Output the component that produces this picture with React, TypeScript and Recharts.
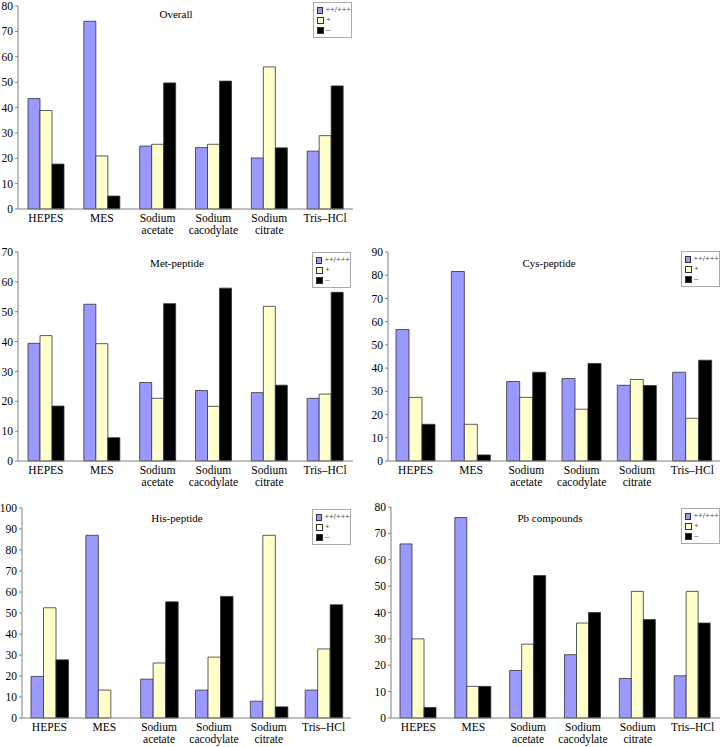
import React from 'react';
import { Bar, BarChart, XAxis, YAxis } from 'recharts';

// Crystallisation outcome (%) per buffer, split by screening set.
const categories = ['HEPES', 'MES', 'Sodium acetate', 'Sodium cacodylate', 'Sodium citrate', 'Tris–HCl'];
const seriesNames = ['++/+++', '+', '–'];

const overallStrong = [43.5, 74, 24.8, 24.2, 20.1, 22.8];
const overallWeak = [38.8, 20.9, 25.5, 25.5, 56, 28.9];
const overallNone = [17.7, 5.1, 49.7, 50.4, 24.1, 48.5];

const metStrong = [39.4, 52.5, 26.3, 23.6, 22.9, 21.0];
const metWeak = [42.0, 39.3, 21.0, 18.3, 51.8, 22.4];
const metNone = [18.4, 7.8, 52.7, 57.9, 25.4, 56.5];

const cysStrong = [56.6, 81.6, 34.2, 35.5, 32.6, 38.2];
const cysWeak = [27.4, 15.8, 27.4, 22.3, 35.1, 18.4];
const cysNone = [15.8, 2.6, 38.2, 42.0, 32.5, 43.4];

const hisStrong = [19.8, 87.0, 18.5, 13.3, 8.0, 13.3];
const hisWeak = [52.5, 13.3, 26.2, 29.0, 87.0, 32.9];
const hisNone = [27.7, 0, 55.3, 57.9, 5.3, 53.9];

const pbStrong = [66, 76, 18, 24, 15, 16];
const pbWeak = [30, 12, 28, 36, 48, 48];
const pbNone = [4, 12, 54, 40, 37.3, 36];

const ticks80 = [0, 10, 20, 30, 40, 50, 60, 70, 80];
const ticks70 = [0, 10, 20, 30, 40, 50, 60, 70];
const ticks90 = [0, 10, 20, 30, 40, 50, 60, 70, 80, 90];
const ticks100 = [0, 10, 20, 30, 40, 50, 60, 70, 80, 90, 100];

const colors = ['#9999ff', '#ffffcc', '#000000'];
const serif = '"Liberation Serif", "Times New Roman", serif';

const build = (a: number[], b: number[], c: number[]) =>
  categories.map((name, i) => ({ name, s0: a[i], s1: b[i], s2: c[i] }));

const CatTick = (props: any) => {
  const { x, y, payload } = props;
  const lines = String(payload.value).split(' ');
  return (
    <text x={x} y={y} textAnchor="middle" fontFamily={serif} fontSize={11.5} fill="#000">
      {lines.map((l, i) => (
        <tspan key={i} x={x} dy={i === 0 ? 13 : 12}>{l}</tspan>
      ))}
    </text>
  );
};

interface PanelProps {
  left: number;
  top: number;
  width: number;
  height: number;
  title: string;
  titleX: number;
  titleY: number;
  data: any[];
  ticks: number[];
  yWidth: number;
  margin: { top: number; right: number; bottom: number; left: number };
  barSize: number;
  legendTop: number;
  legendRight: number;
}

const Panel: React.FC<PanelProps> = (p) => (
  <div style={{ position: 'absolute', left: p.left, top: p.top, width: p.width, height: p.height }}>
    <BarChart width={p.width} height={p.height} data={p.data} margin={p.margin} barGap={0} barSize={p.barSize}>
      <XAxis dataKey="name" interval={0} tick={<CatTick />} tickLine={false} tickSize={0} tickMargin={0} height={28} stroke="#808080" />
      <YAxis
        domain={[0, p.ticks[p.ticks.length - 1]]}
        ticks={p.ticks}
        interval={0}
        width={p.yWidth}
        tick={{ fontFamily: serif, fontSize: 11.5, fill: '#000' }}
        tickSize={3}
        tickMargin={2}
        stroke="#808080"
      />
      <YAxis yAxisId="frame" orientation="right" width={0} tick={false} tickLine={false} axisLine={{ stroke: '#c0c0c0' }} />
      {['s0', 's1', 's2'].map((k, i) => (
        <Bar key={k} dataKey={k} name={seriesNames[i]} fill={colors[i]} stroke="#333" strokeWidth={0.8} isAnimationActive={false} />
      ))}
    </BarChart>
    <div
      style={{
        position: 'absolute',
        left: p.titleX,
        top: p.titleY,
        transform: 'translate(-50%, -50%)',
        fontFamily: serif,
        fontSize: 11,
        whiteSpace: 'nowrap',
      }}
    >
      {p.title}
    </div>
    <div
      style={{
        position: 'absolute',
        top: p.legendTop,
        right: p.legendRight,
        width: 34,
        padding: '2px 0 2px 3px',
        border: '1px solid #aaa',
        background: '#fff',
        fontFamily: '"Liberation Sans", Arial, sans-serif',
        fontSize: 8,
        color: '#555',
        lineHeight: '10px',
      }}
    >
      {seriesNames.map((n, i) => (
        <div key={n} style={{ display: 'flex', alignItems: 'center' }}>
          <span style={{ width: 5, height: 5, background: colors[i], border: '1px solid #333', marginRight: 2, display: 'inline-block' }} />
          {n}
        </div>
      ))}
    </div>
  </div>
);

export default function App() {
  return (
    <div style={{ position: 'absolute', left: 0, top: 0, width: 721, height: 747, background: '#fff' }}>
      <Panel left={0} top={0} width={360} height={240} title="Overall" titleX={176} titleY={14}
        data={build(overallStrong, overallWeak, overallNone)} ticks={ticks80} yWidth={18}
        margin={{ top: 6, right: 7, bottom: 3, left: 0 }} barSize={12} legendTop={2} legendRight={8} />
      <Panel left={0} top={240} width={360} height={250} title="Met-peptide" titleX={177} titleY={23}
        data={build(metStrong, metWeak, metNone)} ticks={ticks70} yWidth={18}
        margin={{ top: 12, right: 7, bottom: 1, left: 0 }} barSize={12} legendTop={12} legendRight={9} />
      <Panel left={360} top={240} width={361} height={250} title="Cys-peptide" titleX={189} titleY={23}
        data={build(cysStrong, cysWeak, cysNone)} ticks={ticks90} yWidth={28}
        margin={{ top: 12, right: 1, bottom: 1, left: 0 }} barSize={13} legendTop={11} legendRight={1} />
      <Panel left={0} top={490} width={360} height={257} title="His-peptide" titleX={177} titleY={28}
        data={build(hisStrong, hisWeak, hisNone)} ticks={ticks100} yWidth={22}
        margin={{ top: 18, right: 9, bottom: 1, left: 0 }} barSize={12.5} legendTop={19} legendRight={9} />
      <Panel left={360} top={490} width={361} height={257} title="Pb compounds" titleX={190} titleY={28}
        data={build(pbStrong, pbWeak, pbNone)} ticks={ticks80} yWidth={31}
        margin={{ top: 17, right: 1, bottom: 1, left: 0 }} barSize={12} legendTop={18} legendRight={1} />
    </div>
  );
}
